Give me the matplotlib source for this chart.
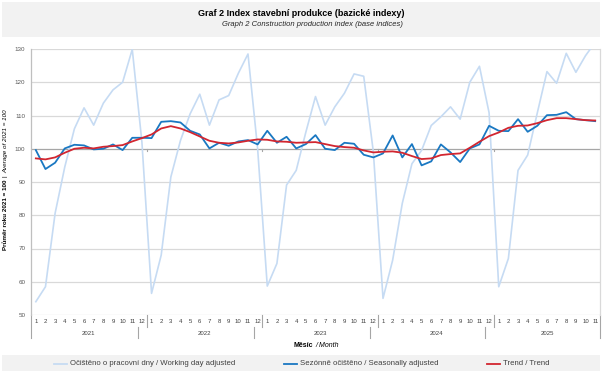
import matplotlib.pyplot as plt
from matplotlib.patches import Rectangle
from matplotlib.lines import Line2D

plt.rcParams['font.family'] = ['Liberation Sans', 'DejaVu Sans']

# categories
years = ['2021', '2022', '2023', '2024', '2025']
months_per_year = [12, 12, 12, 12, 11]
month_labels = [str(m) for n in months_per_year for m in range(1, n + 1)]

# series
working_day_adj = [54.0, 58.5, 80.6, 94.5, 106.0, 112.3, 107.1, 113.7, 117.7, 120.0, 129.9, 102.0,
                   56.5, 68.0, 91.5, 102.5, 110.5, 116.4, 107.1, 114.7, 116.0, 122.7, 128.5, 100.0,
                   58.7, 65.5, 89.1, 93.5, 105.0, 115.7, 107.1, 112.6, 116.7, 122.5, 121.8, 99.0,
                   55.0, 66.5, 83.6, 95.5, 99.5, 107.0, 109.6, 112.6, 108.9, 120.0, 124.8, 110.8,
                   58.5, 67.0, 93.5, 98.1, 110.8, 123.2, 119.7, 128.7, 123.0, 128.0, 132.0]
seas_adj = [99.6, 93.9, 95.8, 100.1, 101.2, 101.0, 99.8, 100.0, 101.3, 99.6, 103.3, 103.3,
            103.2, 108.1, 108.3, 107.9, 105.4, 104.3, 100.1, 101.8, 100.9, 102.2, 102.6, 101.3,
            105.4, 101.8, 103.6, 100.1, 101.4, 104.1, 100.0, 99.6, 101.8, 101.5, 98.2, 97.4,
            98.6, 104.0, 97.4, 101.4, 95.0, 96.2, 101.3, 98.9, 96.0, 100.1, 101.3, 106.9,
            105.4, 105.3, 108.9, 105.1, 106.9, 110.1, 110.2, 111.0, 108.9, 108.6, 108.3]
trend = [97.1, 96.8, 97.4, 98.8, 100.0, 100.3, 100.1, 100.6, 100.8, 101.1, 102.2, 103.2,
         104.3, 106.1, 106.8, 106.1, 105.0, 103.7, 102.4, 101.8, 101.6, 101.9, 102.4, 102.8,
         102.7, 102.2, 102.1, 101.8, 101.9, 102.0, 101.4, 100.8, 100.5, 100.3, 99.5, 98.9,
         99.1, 99.2, 98.8, 97.8, 96.9, 97.1, 98.1, 98.4, 98.6, 100.3, 102.1, 103.8,
         104.9, 106.3, 106.9, 107.0, 107.7, 108.6, 109.2, 109.2, 108.9, 108.6, 108.5]

W, H = 602, 373
fig = plt.figure(figsize=(W / 100, H / 100), dpi=100)

# grey boxes for title and legend
fig.patches.append(Rectangle((2 / W, 1 - 37 / H), 598 / W, 35 / H, transform=fig.transFigure,
                             fc='#f2f2f2', ec='none', zorder=0))
fig.patches.append(Rectangle((2 / W, 1 - 371 / H), 598 / W, 16 / H, transform=fig.transFigure,
                             fc='#f2f2f2', ec='none', zorder=0))

fig.text(0.5, 1 - 14 / H, 'Graf 2 Index stavební produkce (bazické indexy)', ha='center', va='center',
         fontsize=6.5, weight='bold')
fig.text(312 / W, 1 - 25 / H, 'Graph 2 Construction production index (base indices)', ha='center',
         va='center', fontsize=5.5, style='italic', color='#262626')

ax = fig.add_axes([31 / W, 1 - 315 / H, 569 / W, 266 / H])
x = list(range(len(month_labels)))
ax.plot(x, working_day_adj, color='#c6dbf3', lw=1.2, zorder=3)
ax.plot(x, seas_adj, color='#1a78c2', lw=1.3, zorder=4)
ax.plot(x, trend, color='#d22630', lw=1.3, zorder=5)

ax.set_xlim(-0.5, len(month_labels) - 0.5)
ax.set_ylim(50, 130)
ax.set_yticks(range(50, 131, 10))
ax.tick_params(axis='y', length=0, labelsize=4.5, labelcolor='#595959', pad=4)
ax.set_xticks([])
for v in range(50, 131, 10):
    ax.axhline(v, color='#a6a6a6' if v == 100 else '#d9d9d9', lw=0.9, zorder=1)
for s in ['top', 'bottom']:
    ax.spines[s].set_visible(False)
ax.spines['left'].set_color('#bfbfbf')
ax.spines['right'].set_color('#d9d9d9')
ax.spines['left'].set_linewidth(0.9)
ax.spines['right'].set_linewidth(0.9)

# category labels
tr = ax.get_xaxis_transform()
for i, m in enumerate(month_labels):
    ax.text(i, -0.024, m, transform=tr, ha='center', va='center', fontsize=4.3, color='#404040')
start = 0
bounds = []
for yr, n in zip(years, months_per_year):
    ax.text(start + (n - 1) / 2, -0.068, yr, transform=tr, ha='center', va='center', fontsize=4.3,
            color='#404040')
    start += n
    bounds.append(start - 0.5)
for b in bounds[:-1]:
    ax.plot([b, b], [0, -0.045], transform=tr, color='#a6a6a6', lw=0.8, clip_on=False)
    ax.plot([b - 0.9, b - 0.9], [-0.045, -0.085], transform=tr, color='#a6a6a6', lw=0.8, clip_on=False)
    ax.plot([b, b], [100, 99.3], color='#a6a6a6', lw=0.8)
for b in [-0.5, bounds[-1]]:
    ax.plot([b, b], [0, -0.085], transform=tr, color='#a6a6a6', lw=0.8, clip_on=False)


def mixed(parts, xc, yc, rot=0, size=5, gap=2.0):
    r = fig.canvas.get_renderer()
    ts, lens = [], []
    for s, kw in parts:
        t = fig.text(0, 0, s, fontsize=size, rotation=rot, rotation_mode='anchor', ha='left',
                     va='baseline', **kw)
        bb = t.get_window_extent(r)
        ts.append(t)
        lens.append(bb.height if rot else bb.width)
    pos = -(sum(lens) + gap * (len(lens) - 1)) / 2
    for t, L in zip(ts, lens):
        if rot:
            t.set_position((xc, yc + pos / H))
        else:
            t.set_position((xc + pos / W, yc))
        pos += L + gap


mixed([('Průměr roku 2021 = 100', dict(weight='bold')), ('|', {}),
       ('Average of 2021 = 100', dict(style='italic'))], 7 / W, 1 - 180 / H, rot=90, size=4.5, gap=2.5)
mixed([('Měsíc', dict(weight='bold')), ('/ Month', dict(style='italic'))], 316 / W, 1 - 347 / H,
      size=5, gap=2.0)

# legend
legend_items = ['Očištěno o pracovní dny / Working day adjusted', 'Sezónně očištěno / Seasonally adjusted',
                'Trend / Trend']
legend_colors = ['#c6dbf3', '#1a78c2', '#d22630']
legend_x = [54, 284, 487]
ly = 1 - 363.5 / H
for lab, c, lx in zip(legend_items, legend_colors, legend_x):
    fig.add_artist(Line2D([lx / W, (lx + 13) / W], [ly, ly], color=c, lw=1.3))
    fig.text((lx + 16) / W, ly, lab, ha='left', va='center', fontsize=5.6, color='#404040')

fig.savefig('out.png', dpi=100)
